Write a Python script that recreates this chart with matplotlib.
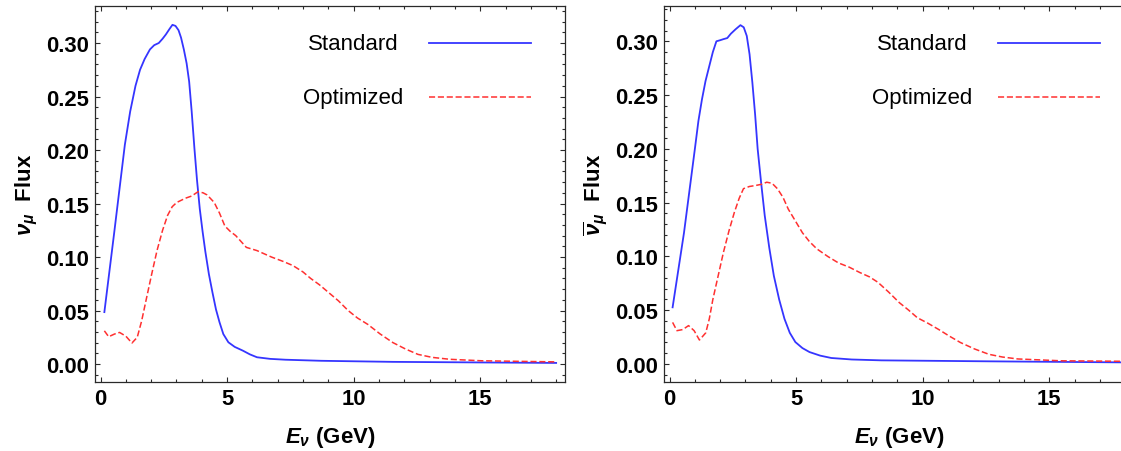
import numpy as np
import matplotlib.pyplot as plt
from matplotlib.ticker import MultipleLocator

plt.rcParams['font.family'] = ['Liberation Sans', 'DejaVu Sans']
plt.rcParams['mathtext.fontset'] = 'custom'
plt.rcParams['mathtext.rm'] = 'Liberation Sans:bold'
plt.rcParams['mathtext.it'] = 'Liberation Sans:italic:bold'
plt.rcParams['mathtext.bf'] = 'Liberation Sans:bold'

# neutrino mode flux
nu_std_E = [0.15, 0.54, 0.96, 1.17, 1.38, 1.56, 1.74, 1.95, 2.12, 2.30, 2.45, 2.58, 2.72,
            2.84, 2.96, 3.08, 3.18, 3.29, 3.40, 3.50, 3.60, 3.71, 3.81, 3.92, 4.03, 4.14,
            4.28, 4.42, 4.56, 4.70, 4.85, 5.05, 5.30, 5.62, 5.90, 6.18, 6.70, 7.31, 8.72,
            11.55, 18.0]
nu_std_F = [0.0485, 0.123, 0.205, 0.236, 0.260, 0.275, 0.285, 0.294, 0.298, 0.300, 0.304,
            0.308, 0.313, 0.317, 0.316, 0.312, 0.305, 0.294, 0.281, 0.264, 0.236, 0.201,
            0.172, 0.145, 0.124, 0.105, 0.084, 0.067, 0.051, 0.039, 0.028, 0.0203, 0.016,
            0.0125, 0.009, 0.0063, 0.0048, 0.004, 0.003, 0.002, 0.001]
nu_opt_E = [0.15, 0.32, 0.55, 0.75, 1.0, 1.24, 1.45, 1.62, 1.81, 2.02, 2.23, 2.45, 2.65,
            2.83, 3.01, 3.36, 3.60, 3.85, 4.05, 4.21, 4.49, 4.70, 4.91, 5.12, 5.34, 5.76,
            6.18, 6.75, 7.2, 7.6, 8.0, 8.3, 8.65, 9.0, 9.4, 9.78, 10.15, 10.56, 11.05,
            11.55, 12.05, 12.54, 13.1, 13.8, 15.07, 16.5, 18.0]
nu_opt_F = [0.031, 0.0255, 0.028, 0.0295, 0.026, 0.0196, 0.025, 0.040, 0.061, 0.084, 0.106,
            0.125, 0.139, 0.147, 0.151, 0.155, 0.157, 0.161, 0.160, 0.158, 0.151, 0.141,
            0.129, 0.124, 0.120, 0.109, 0.106, 0.100, 0.096, 0.092, 0.086, 0.080, 0.074,
            0.067, 0.059, 0.050, 0.043, 0.037, 0.028, 0.020, 0.014, 0.009, 0.0062, 0.0044,
            0.003, 0.0025, 0.002]

# antineutrino mode flux
anu_std_E = [0.12, 0.57, 1.0, 1.14, 1.28, 1.42, 1.57, 1.71, 1.85, 2.0, 2.13, 2.28, 2.42,
             2.60, 2.80, 2.93, 3.05, 3.16, 3.27, 3.38, 3.48, 3.62, 3.76, 3.94, 4.12, 4.33,
             4.54, 4.75, 4.97, 5.25, 5.53, 5.95, 6.39, 7.2, 8.37, 12.6, 18.0]
anu_std_F = [0.0527, 0.122, 0.200, 0.226, 0.246, 0.263, 0.277, 0.290, 0.300, 0.301, 0.302,
             0.303, 0.307, 0.311, 0.315, 0.313, 0.305, 0.288, 0.262, 0.232, 0.200, 0.168,
             0.138, 0.108, 0.082, 0.060, 0.042, 0.029, 0.0204, 0.0148, 0.0111, 0.0078,
             0.0056, 0.0042, 0.0034, 0.0025, 0.0015]
anu_opt_E = [0.12, 0.29, 0.52, 0.75, 0.97, 1.18, 1.43, 1.57, 1.71, 1.92, 2.13, 2.35, 2.56,
             2.75, 2.92, 3.15, 3.41, 3.62, 3.84, 4.05, 4.26, 4.48, 4.69, 4.97, 5.25, 5.52,
             5.82, 6.25, 6.67, 7.1, 7.52, 7.9, 8.23, 8.65, 9.08, 9.45, 9.79, 10.2, 10.64,
             11.05, 11.49, 12.05, 12.62, 13.15, 13.76, 15.46, 18.0]
anu_opt_F = [0.0387, 0.031, 0.032, 0.0357, 0.031, 0.0223, 0.029, 0.042, 0.060, 0.082, 0.104,
             0.124, 0.141, 0.154, 0.163, 0.165, 0.166, 0.167, 0.169, 0.168, 0.163, 0.155,
             0.144, 0.133, 0.122, 0.114, 0.107, 0.100, 0.094, 0.090, 0.085, 0.081, 0.076,
             0.067, 0.057, 0.050, 0.043, 0.038, 0.032, 0.026, 0.020, 0.014, 0.009, 0.0065,
             0.0047, 0.003, 0.0025]

series_names = ['Standard', 'Optimized']
blue = '#3535ff'
red = '#ff3030'
frame = '#2a2a2a'

fig = plt.figure(figsize=(11.21, 4.52), dpi=100)
ax1 = fig.add_axes([95 / 1121, 68.7 / 452, 470 / 1121, 376.3 / 452])
ax2 = fig.add_axes([664 / 1121, 68.7 / 452, 470 / 1121, 376.3 / 452])

panels = [
    (ax1, nu_std_E, nu_std_F, nu_opt_E, nu_opt_F, r'$\nu_\mu$  Flux', (-0.0171, 0.3346)),
    (ax2, anu_std_E, anu_std_F, anu_opt_E, anu_opt_F, r'$\overline{\nu}_\mu$  Flux', (-0.0170, 0.3328)),
]

for ax, se, sf, oe, of, ylab, ylim in panels:
    ax.plot(se, sf, color=blue, lw=1.3)
    ln, = ax.plot(oe, of, color=red, lw=1.1)
    ln.set_dashes((4, 1.8))

    ax.set_xlim(-0.22, 18.35)
    ax.set_ylim(*ylim)
    ax.xaxis.set_major_locator(MultipleLocator(5))
    ax.xaxis.set_minor_locator(MultipleLocator(1))
    ax.yaxis.set_major_locator(MultipleLocator(0.05))
    ax.yaxis.set_minor_locator(MultipleLocator(0.01))
    ax.yaxis.set_major_formatter(plt.FuncFormatter(lambda v, p: f'{v:.2f}'))
    ax.tick_params(which='both', direction='in', top=True, right=True, color=frame,
                   width=0.8, labelsize=15.8, pad=4)
    ax.tick_params(which='major', length=3.8)
    ax.tick_params(which='minor', length=2.0)
    for lab in ax.get_xticklabels() + ax.get_yticklabels():
        lab.set_fontweight('bold')
    for sp in ax.spines.values():
        sp.set_color(frame)
        sp.set_linewidth(0.9)

    ax.set_xlabel(r'$E_\nu$ (GeV)', fontsize=16, fontweight='bold', labelpad=11)
    ax.set_ylabel(ylab, fontsize=16, fontweight='bold', labelpad=5)

    # legend, text centred left of each line sample
    for (name, col, dash, yy) in zip(series_names, [blue, red], [None, (4, 1.8)], [0.901, 0.757]):
        ax.text(0.549, yy, name, transform=ax.transAxes, ha='center', va='center', fontsize=16)
        h, = ax.plot([0.71, 0.927], [yy, yy], transform=ax.transAxes, color=col,
                     lw=1.3 if dash is None else 1.1)
        if dash is not None:
            h.set_dashes(dash)

fig.savefig('out.png', dpi=100)
